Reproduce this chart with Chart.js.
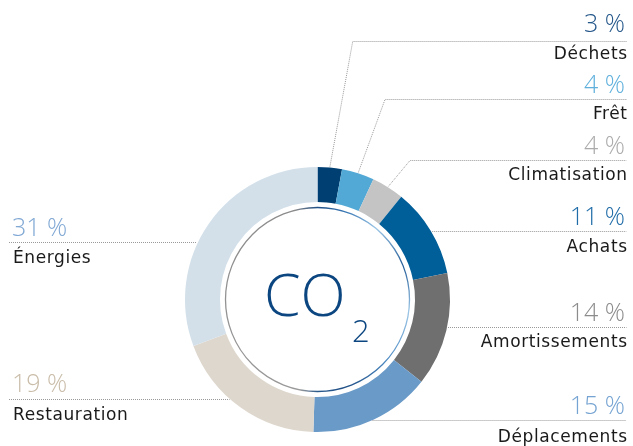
<!DOCTYPE html>
<html>
<head>
<meta charset="utf-8">
<script src="https://cdn.jsdelivr.net/npm/chart.js@4/dist/chart.umd.min.js"></script>
<style>
  html, body { margin: 0; padding: 0; background: #fff; overflow: hidden; }
  #wrap { position: relative; width: 633px; height: 446px; }
</style>
</head>
<body>
<div id="wrap"><canvas id="c" width="633" height="446"></canvas></div>
<script>
// Emission sources, clockwise from 12 o'clock
const categories = ['Déchets', 'Frêt', 'Climatisation', 'Achats', 'Amortissements', 'Déplacements', 'Restauration', 'Énergies'];
const shares = [3, 4, 4, 11, 14, 15, 19, 31];

// Slice fills and matching percentage colours
const sliceColors = ['#003f72', '#52a9d6', '#c4c4c4', '#005e99', '#6f6f6f', '#6a9ac8', '#ded7cd', '#d3e0ea'];
const valueColors = ['#24578a', '#5fb0dc', '#ababab', '#1f6ca8', '#8c8c8c', '#75a3d2', '#c9bca8', '#80a8d4'];

// Callout layout: side, leader line y, elbow x for angled leaders, text baselines
const calloutSide = ['r', 'r', 'r', 'r', 'r', 'r', 'l', 'l'];
const leaderY = [40.7, 99, 160, 231, 326.7, 420, 399.3, 242.3];
const elbowX = [352.7, 385, 410, null, null, null, null, null];
const valueBase = [31.7, 93.3, 154, 225, 320.7, 414, 392.3, 235.7];
const nameBase = [59.3, 119.3, 180, 251.7, 347.3, 441.7, 420, 262.7];

const RIGHT_EDGE = 626.5;
const LEFT_EDGE = 9;
const OUTER_R = 132.5;
const INNER_R = 97.5;

const calloutPlugin = {
  id: 'callouts',
  afterDatasetsDraw(chart) {
    const ctx = chart.ctx;
    const arcs = chart.getDatasetMeta(0).data;
    const cx = arcs[0].x, cy = arcs[0].y, R = arcs[0].outerRadius;

    // thin inner ring: grey on the left, blue shades on the right
    ctx.save();
    const g = ctx.createConicGradient(-Math.PI / 2, cx, cy);
    g.addColorStop(0.00, '#1f4f86');
    g.addColorStop(0.05, '#3a78b4');
    g.addColorStop(0.11, '#9cc6e6');
    g.addColorStop(0.19, '#235c98');
    g.addColorStop(0.27, '#9cc6e6');
    g.addColorStop(0.36, '#4f8cc4');
    g.addColorStop(0.45, '#1f4f86');
    g.addColorStop(0.50, '#2a5a8c');
    g.addColorStop(0.53, '#9a9a9a');
    g.addColorStop(0.96, '#8a8a8a');
    g.addColorStop(1.00, '#1f4f86');
    ctx.strokeStyle = g;
    ctx.lineWidth = 1.3;
    ctx.beginPath();
    ctx.arc(cx, cy, 92, 0, Math.PI * 2);
    ctx.stroke();
    ctx.restore();

    // centre title
    ctx.save();
    ctx.fillStyle = '#0c4680';
    ctx.textBaseline = 'alphabetic';
    ctx.textAlign = 'left';
    ctx.font = '300 59px "Open Sans"';
    ctx.fillText('CO', 264, 315.5);
    ctx.font = '300 31px "Open Sans"';
    ctx.fillText('2', 352, 341.5);
    ctx.restore();

    // leader lines
    ctx.save();
    ctx.strokeStyle = '#999999';
    ctx.lineWidth = 1;
    ctx.setLineDash([1, 1]);
    arcs.forEach((arc, i) => {
      const y = Math.round(leaderY[i]) + 0.5;
      ctx.beginPath();
      if (calloutSide[i] === 'r') {
        if (elbowX[i] !== null) {
          const mid = (arc.startAngle + arc.endAngle) / 2;
          ctx.moveTo(cx + Math.cos(mid) * (R + 1), cy + Math.sin(mid) * (R + 1));
          ctx.lineTo(elbowX[i], y);
        } else {
          const dy = y - cy;
          ctx.moveTo(cx + Math.sqrt(R * R - dy * dy) + 1, y);
        }
        ctx.lineTo(RIGHT_EDGE, y);
      } else {
        const dy = y - cy;
        ctx.moveTo(LEFT_EDGE, y);
        ctx.lineTo(cx - Math.sqrt(R * R - dy * dy) - 1, y);
      }
      ctx.stroke();
    });
    ctx.restore();

    // percentages and names
    ctx.save();
    ctx.textBaseline = 'alphabetic';
    categories.forEach((name, i) => {
      const right = calloutSide[i] === 'r';
      ctx.textAlign = right ? 'right' : 'left';
      ctx.letterSpacing = '0px';
      ctx.font = '300 25px "Open Sans"';
      ctx.fillStyle = valueColors[i];
      ctx.fillText(shares[i] + ' %', right ? 625 : 12, valueBase[i]);
      ctx.font = '400 17px "DejaVu Sans"';
      ctx.letterSpacing = '0.6px';
      ctx.fillStyle = '#1a1a1a';
      ctx.fillText(name, right ? 627 + 0.6 : 13, nameBase[i]);
    });
    ctx.restore();
  }
};

new Chart(document.getElementById('c'), {
  type: 'doughnut',
  data: {
    labels: categories,
    datasets: [{
      data: shares,
      backgroundColor: sliceColors,
      borderWidth: 0
    }]
  },
  options: {
    responsive: false,
    animation: false,
    radius: OUTER_R,
    cutout: (INNER_R / OUTER_R * 100) + '%',
    rotation: 0,
    layout: { padding: { top: 153, left: 2, right: 0, bottom: 0 } },
    plugins: { legend: { display: false }, tooltip: { enabled: false } }
  },
  plugins: [calloutPlugin]
});
</script>
</body>
</html>
